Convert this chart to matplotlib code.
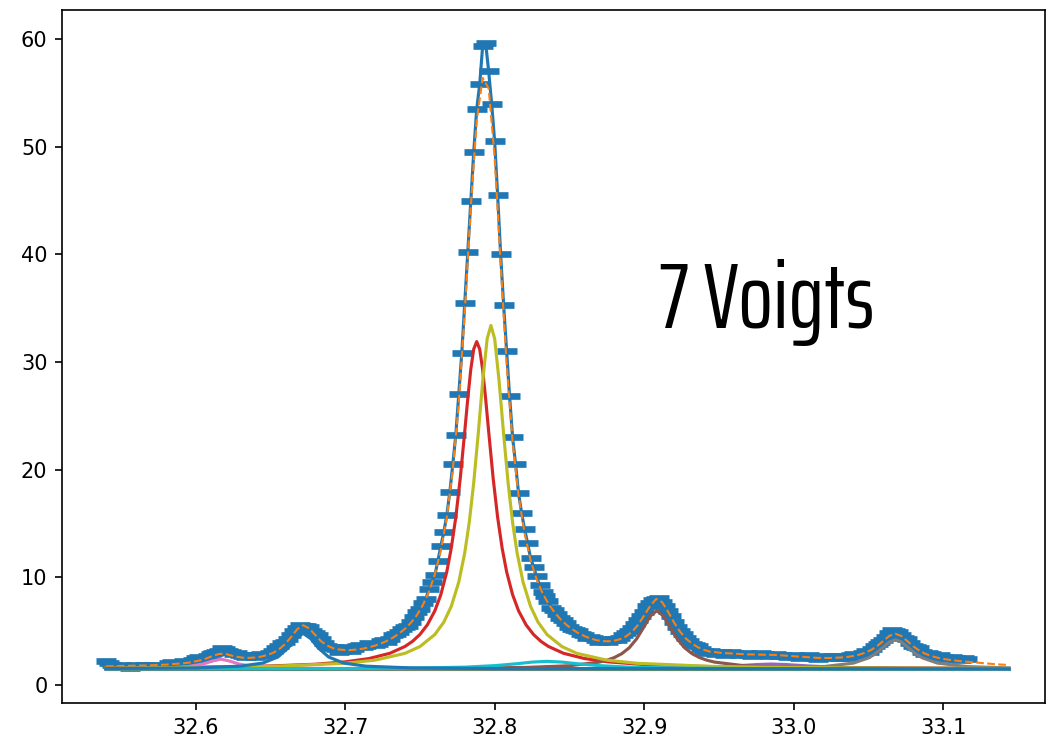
import numpy as np
import matplotlib
matplotlib.use('Agg')
import matplotlib.pyplot as plt

# measured scan (step 0.002) and the fitted total (step 0.004)
data_x = np.linspace(32.540, 33.116, 289)
data_y = [2.2, 2.0, 1.9, 1.8, 1.7, 1.9, 1.8, 1.7, 1.6, 1.8, 1.9, 1.8, 1.7, 1.9, 1.8,
          1.7, 1.9, 1.8, 1.7, 1.8, 1.9, 2.0, 2.1, 1.8, 1.9, 2.0, 2.2, 2.0, 2.1, 2.3,
          2.5, 2.6, 2.4, 2.5, 2.7, 2.9, 3.0, 3.1, 3.2, 3.4, 3.3, 3.2, 3.1, 2.9, 3.0,
          2.8, 2.7, 2.6, 2.8, 2.7, 2.6, 2.8, 2.9, 2.7, 2.8, 3.0, 3.2, 3.4, 3.6, 3.9,
          4.0, 4.3, 4.6, 5.0, 5.3, 5.6, 5.5, 5.5, 5.4, 5.0, 4.8, 4.6, 4.3, 3.9, 3.6,
          3.4, 3.5, 3.3, 3.1, 3.2, 3.4, 3.5, 3.2, 3.3, 3.6, 3.7, 3.5, 3.6, 3.9, 3.8,
          3.7, 3.8, 4.1, 4.2, 4.0, 4.3, 4.6, 4.7, 4.9, 5.2, 5.4, 5.5, 5.9, 6.3, 6.8,
          7.1, 7.6, 8.0, 8.9, 9.6, 10.2, 11.5, 12.9, 14.2, 15.8, 17.9, 20.5, 23.2, 27.0, 30.8,
          35.5, 40.2, 45.0, 49.5, 53.5, 55.8, 59.4, 59.6, 57.0, 54.0, 50.5, 45.5, 40.0, 35.3, 31.0,
          26.8, 23.0, 20.5, 17.8, 16.0, 14.5, 13.2, 11.8, 11.0, 10.1, 9.3, 8.6, 8.3, 7.8, 7.2,
          7.0, 6.6, 6.2, 6.0, 5.8, 5.4, 5.2, 5.1, 5.0, 4.7, 4.6, 4.4, 4.5, 4.4, 4.2,
          4.0, 4.3, 4.1, 4.0, 4.2, 4.3, 4.2, 4.4, 4.6, 4.8, 5.0, 5.3, 5.7, 6.0, 6.4,
          6.8, 7.3, 7.6, 7.9, 8.0, 8.1, 7.7, 7.3, 6.9, 6.4, 5.9, 5.4, 5.0, 4.7, 4.4,
          4.1, 3.8, 3.7, 3.6, 3.3, 3.2, 3.0, 3.2, 3.1, 2.9, 3.0, 3.1, 2.8, 2.9, 3.1,
          3.0, 2.9, 2.8, 2.9, 3.0, 2.8, 2.7, 2.8, 2.9, 3.0, 2.9, 2.8, 2.7, 2.8, 2.9,
          2.7, 2.8, 2.7, 2.6, 2.7, 2.8, 2.6, 2.5, 2.6, 2.7, 2.8, 2.6, 2.5, 2.4, 2.6,
          2.7, 2.6, 2.5, 2.7, 2.6, 2.5, 2.7, 2.6, 2.5, 2.8, 2.9, 2.7, 2.8, 3.0, 3.2,
          3.1, 3.3, 3.6, 3.8, 4.0, 4.2, 4.5, 4.8, 5.1, 5.0, 4.9, 4.6, 4.4, 4.3, 3.9,
          3.6, 3.5, 3.4, 3.1, 2.9, 3.0, 2.9, 2.7, 2.6, 2.8, 2.6, 2.5, 2.4, 2.6, 2.5,
          2.4, 2.3, 2.5, 2.4]

fit_x = np.linspace(32.540, 33.144, 152)
fit_y = [1.74, 1.75, 1.76, 1.77, 1.78, 1.79, 1.80, 1.82, 1.84, 1.86, 1.89, 1.93, 1.97, 2.02, 2.09,
         2.20, 2.32, 2.51, 2.73, 2.89, 2.89, 2.74, 2.61, 2.53, 2.52, 2.56, 2.64, 2.79, 3.00, 3.34,
         3.82, 4.48, 5.19, 5.55, 5.26, 4.65, 4.06, 3.67, 3.42, 3.30, 3.25, 3.25, 3.30, 3.38, 3.50,
         3.66, 3.86, 4.10, 4.40, 4.77, 5.22, 5.78, 6.49, 7.43, 8.64, 10.28, 12.49, 15.58, 19.97, 26.17,
         34.6, 44.3, 52.4, 56.4, 55.4, 49.0, 39.2, 29.8, 22.6, 17.6, 14.1, 11.6, 9.84, 8.54, 7.54,
         6.76, 6.11, 5.59, 5.17, 4.82, 4.55, 4.33, 4.17, 4.08, 4.06, 4.12, 4.26, 4.53, 4.96, 5.61,
         6.47, 7.35, 8.00, 7.70, 6.80, 5.80, 4.95, 4.30, 3.85, 3.50, 3.27, 3.10, 3.05, 2.97, 2.95,
         2.91, 2.88, 2.85, 2.84, 2.83, 2.83, 2.81, 2.79, 2.75, 2.70, 2.66, 2.62, 2.58, 2.54, 2.52,
         2.51, 2.51, 2.53, 2.56, 2.61, 2.70, 2.83, 3.01, 3.28, 3.65, 4.11, 4.57, 4.76, 4.55, 4.07,
         3.59, 3.19, 2.90, 2.69, 2.54, 2.43, 2.34, 2.27, 2.21, 2.16, 2.10, 2.05, 2.00, 1.96, 1.92,
         1.89, 1.86]

# individual components
bg_x = [32.540, 33.144]
bg_y = [1.5, 1.5]

red_x = [32.540, 32.600, 32.650, 32.680, 32.700, 32.716, 32.730, 32.740, 32.745, 32.750, 32.755,
         32.760, 32.764, 32.768, 32.771, 32.774, 32.777, 32.780, 32.782, 32.784, 32.786, 32.788,
         32.790, 32.792, 32.794, 32.796, 32.799, 32.802, 32.805, 32.808, 32.812, 32.816, 32.821,
         32.826, 32.831, 32.836, 32.846, 32.860, 32.876, 32.900, 32.930, 32.970, 33.000, 33.060, 33.144]
red_y = [1.58, 1.65, 1.77, 1.93, 2.15, 2.46, 2.95, 3.58, 4.05, 4.69, 5.59,
         6.89, 8.39, 10.52, 12.72, 15.57, 19.2, 23.55, 26.56, 29.27, 31.2, 31.9,
         31.2, 29.27, 26.56, 23.55, 19.2, 15.57, 12.72, 10.52, 8.39, 6.89, 5.59,
         4.69, 4.05, 3.58, 2.95, 2.46, 2.15, 1.90, 1.75, 1.65, 1.61, 1.57, 1.54]

purple_x = [32.540, 32.850, 32.900, 32.940, 32.960, 32.975, 32.985, 32.995, 33.010, 33.030, 33.070, 33.144]
purple_y = [1.50, 1.52, 1.55, 1.64, 1.77, 1.90, 1.95, 1.90, 1.77, 1.64, 1.55, 1.52]

brown_x = [32.540, 32.750, 32.820, 32.850, 32.870, 32.875, 32.880, 32.885, 32.890, 32.895, 32.900,
           32.904, 32.9085, 32.913, 32.917, 32.922, 32.927, 32.932, 32.937, 32.942, 32.947,
           32.967, 33.000, 33.144]
brown_y = [1.51, 1.54, 1.63, 1.79, 2.13, 2.30, 2.55, 2.91, 3.46, 4.30, 5.44,
           6.40, 6.90, 6.40, 5.44, 4.30, 3.46, 2.91, 2.55, 2.30, 2.13,
           1.79, 1.62, 1.53]

pink_x = [32.540, 32.580, 32.595, 32.605, 32.611, 32.617, 32.623, 32.629, 32.639, 32.654, 32.700, 33.144]
pink_y = [1.52, 1.59, 1.71, 1.95, 2.22, 2.40, 2.22, 1.95, 1.71, 1.59, 1.52, 1.50]

gray_x = [32.540, 32.900, 32.980, 33.020, 33.040, 33.050, 33.054, 33.060, 33.064, 33.068,
          33.072, 33.076, 33.082, 33.086, 33.096, 33.116, 33.144]
gray_y = [1.50, 1.52, 1.57, 1.71, 2.04, 2.52, 2.85, 3.53, 4.00, 4.20,
          4.00, 3.53, 2.85, 2.52, 2.04, 1.71, 1.59]

olive_x = [32.540, 32.600, 32.650, 32.700, 32.720, 32.740, 32.750, 32.760, 32.766, 32.771, 32.776,
           32.780, 32.783, 32.786, 32.789, 32.792, 32.795, 32.7975, 32.800, 32.803, 32.806, 32.809,
           32.812, 32.815, 32.819, 32.824, 32.829, 32.835, 32.845, 32.855, 32.875, 32.895, 32.945,
           33.000, 33.060, 33.144]
olive_y = [1.57, 1.63, 1.73, 2.02, 2.31, 2.94, 3.57, 4.69, 5.84, 7.31, 9.56,
           12.28, 15.1, 18.78, 23.3, 28.2, 32.17, 33.4, 32.17, 28.2, 23.3, 18.78,
           15.1, 12.28, 9.56, 7.31, 5.84, 4.69, 3.57, 2.94, 2.31, 2.02, 1.73,
           1.62, 1.57, 1.54]

cyan_x = [32.540, 32.700, 32.750, 32.780, 32.800, 32.815, 32.825, 32.835, 32.845, 32.855, 32.870,
          32.890, 32.920, 32.970, 33.144]
cyan_y = [1.51, 1.53, 1.58, 1.66, 1.80, 1.98, 2.13, 2.20, 2.13, 1.98, 1.80,
          1.66, 1.58, 1.53, 1.51]

blue_x = [32.540, 32.600, 32.630, 32.645, 32.655, 32.662, 32.667, 32.672, 32.677, 32.682, 32.689,
          32.699, 32.714, 32.744, 32.800, 33.144]
blue_y = [1.53, 1.59, 1.75, 2.04, 2.60, 3.45, 4.31, 4.80, 4.31, 3.45, 2.60,
          2.04, 1.75, 1.59, 1.53, 1.50]

fig = plt.figure(figsize=(1049 / 150, 744 / 150), dpi=150)
ax = fig.add_axes([62 / 1049, 41 / 744, 983 / 1049, 693 / 744])

ax.plot(data_x, data_y, '-', color='C0', marker='_', markersize=10, markeredgewidth=3.2, linewidth=1.5)
ax.plot(fit_x, fit_y, '--', color='C1', linewidth=1.0)

ax.plot(bg_x, bg_y, color='C2')
ax.plot(red_x, red_y, color='C3')
ax.plot(purple_x, purple_y, color='C4')
ax.plot(brown_x, brown_y, color='C5')
ax.plot(pink_x, pink_y, color='C6')
ax.plot(gray_x, gray_y, color='C7')
ax.plot(olive_x, olive_y, color='C8')
ax.plot(cyan_x, cyan_y, color='C9')
ax.plot(blue_x, blue_y, color='C0')

ax.text(32.982, 33.2, '7 Voigts', fontsize=44,
        family=['Saira Extra Condensed', 'Saira ExtraCondensed', 'Pathway Gothic One', 'Oswald', 'DejaVu Sans'],
        ha='center', va='baseline')

ax.set_xlim(32.5107, 33.168)
ax.set_ylim(-1.67, 62.7)
ax.tick_params(labelsize=10)

fig.savefig('out.png', dpi=150)
